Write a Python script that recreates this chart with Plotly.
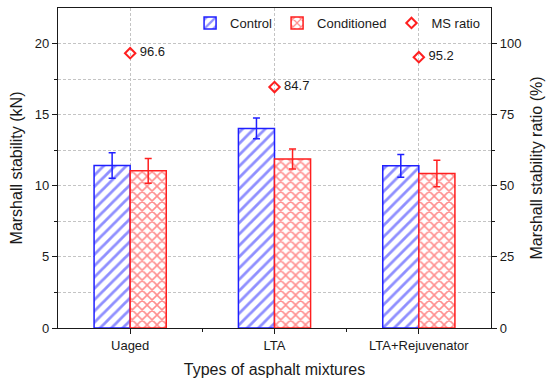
import plotly.graph_objects as go

categories = ["Uaged", "LTA", "LTA+Rejuvenator"]
control = [11.43, 14.03, 11.40]
control_err = [0.90, 0.73, 0.80]
conditioned = [11.05, 11.88, 10.86]
conditioned_err = [0.87, 0.70, 0.93]
ms_ratio = [96.6, 84.7, 95.2]
ms_labels = ["96.6", "84.7", "95.2"]

xpos = list(range(len(categories)))
FONT = "Arial, Liberation Sans, sans-serif"
BLUE = "#1f1fff"
RED = "#ff1f1f"
GRID = "#c4c4c4"
INK = "#1a1a1a"

fig = go.Figure()
fig.add_trace(go.Bar(
    x=xpos, y=control, name="Control",
    marker=dict(color="white", line=dict(color=BLUE, width=1.5),
                pattern=dict(shape="/", fgcolor=BLUE, bgcolor="white", size=8, solidity=0.35)),
    error_y=dict(type="data", array=control_err, color=BLUE, thickness=1.5, width=3.5),
))
fig.add_trace(go.Bar(
    x=xpos, y=conditioned, name="Conditioned",
    marker=dict(color="white", line=dict(color=RED, width=1.5),
                pattern=dict(shape="x", fgcolor=RED, bgcolor="white", size=7, solidity=0.4)),
    error_y=dict(type="data", array=conditioned_err, color=RED, thickness=1.5, width=3.5),
))
fig.add_trace(go.Scatter(
    x=xpos, y=ms_ratio, name="MS ratio", yaxis="y2",
    mode="markers+text", text=ms_labels, texttemplate=" %{text}", textposition="middle right",
    textfont=dict(family=FONT, size=13, color=INK),
    marker=dict(symbol="diamond-open", color=RED, size=8, line=dict(color=RED, width=2)),
))

fig.update_layout(
    width=550, height=385,
    margin=dict(l=58, r=59, t=8, b=57, autoexpand=False),
    plot_bgcolor="white", paper_bgcolor="white",
    barmode="group", bargap=0.5, bargroupgap=0,
    font=dict(family=FONT, size=13, color=INK),
    showlegend=True,
    legend=dict(orientation="h", x=0.305, y=1.0, xanchor="left", yanchor="top",
                bgcolor="rgba(0,0,0,0)", font=dict(size=13, color=INK),
                traceorder="normal"),
    xaxis=dict(
        range=[-0.5, 2.5], tickvals=xpos, ticktext=categories,
        showline=True, linecolor=INK, linewidth=1.2, mirror=True,
        ticks="outside", ticklen=5, tickcolor=INK,
        showgrid=True, gridcolor=GRID, griddash="3px,2px", gridwidth=1,
        minor=dict(tickvals=[0.5, 1.5], ticks="outside", ticklen=3, tickcolor=INK, showgrid=False),
        title=dict(text="Types of asphalt mixtures", font=dict(size=16, color=INK), standoff=12),
        zeroline=False, automargin=False,
    ),
    yaxis=dict(
        range=[0, 22.5], tickvals=[0, 5, 10, 15, 20],
        showline=True, linecolor=INK, linewidth=1.2,
        ticks="outside", ticklen=5, tickcolor=INK,
        showgrid=True, gridcolor=GRID, griddash="3px,2px", gridwidth=1,
        minor=dict(tickvals=[2.5, 7.5, 12.5, 17.5], ticks="outside", ticklen=3, tickcolor=INK,
                   showgrid=True, gridcolor=GRID, griddash="3px,2px"),
        title=dict(text="Marshall stability (kN)", font=dict(size=16, color=INK), standoff=8),
        zeroline=False, automargin=False,
    ),
    yaxis2=dict(
        range=[0, 112.5], tickvals=[0, 25, 50, 75, 100],
        overlaying="y", side="right",
        showline=True, linecolor=INK, linewidth=1.2,
        ticks="outside", ticklen=5, tickcolor=INK,
        showgrid=False,
        minor=dict(tickvals=[12.5, 37.5, 62.5, 87.5], ticks="outside", ticklen=3, tickcolor=INK, showgrid=False),
        title=dict(text="Marshall stability ratio (%)", font=dict(size=16, color=INK), standoff=10),
        zeroline=False, automargin=False,
    ),
)

fig.write_html("out.html", config={"displayModeBar": False},
               post_script="document.body.style.margin='0';")
